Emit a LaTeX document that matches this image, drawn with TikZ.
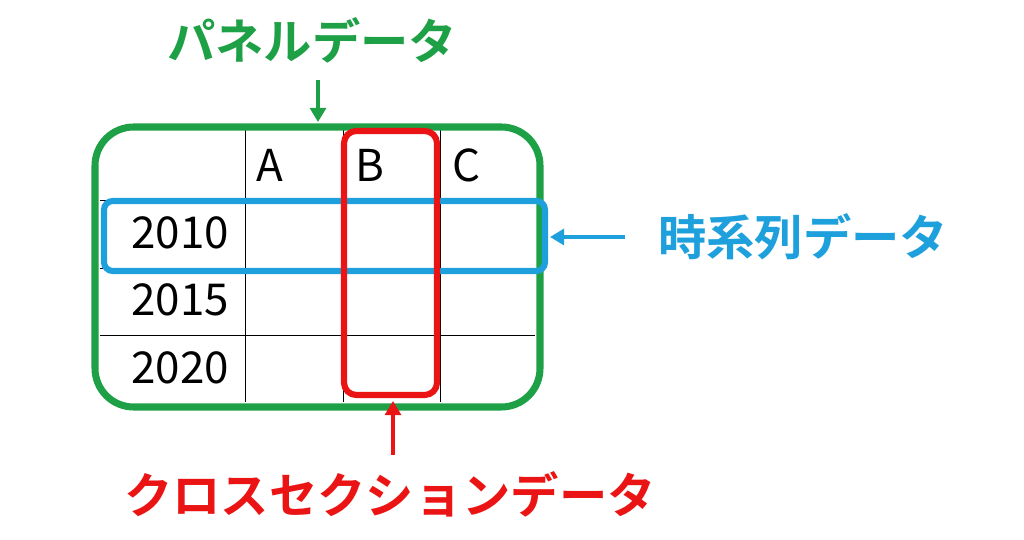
\documentclass[tikz,border=0pt]{standalone}
\usepackage{fontspec}
\newfontfamily\jpfont{Noto Sans CJK JP}
\newfontfamily\jpbold{Noto Sans CJK JP Bold}
\usetikzlibrary{arrows.meta}
\definecolor{panelgreen}{RGB}{30,160,70}
\definecolor{seriesblue}{RGB}{30,160,220}
\definecolor{crossred}{RGB}{235,20,20}
\tikzset{
  cell/.style={font=\jpfont\fontsize{25}{25}\selectfont},
  title/.style={font=\jpbold\fontsize{27.5}{27.5}\selectfont},
  pointer/.style={line width=2.2pt,-{Triangle[length=8pt,width=9pt]}}
}
\begin{document}
\begin{tikzpicture}[x=0.02cm,y=-0.02cm]
\useasboundingbox (0,0) rectangle (1024,540);
%grid
\draw[thin] (100,200) -- (535,200);
\draw[thin] (100,268) -- (535,268);
\draw[thin] (100,335) -- (535,335);
\draw[thin] (245,130) -- (245,402);
\draw[thin] (343,130) -- (343,402);
\draw[thin] (440,130) -- (440,402);
%cells
\node[cell] (ca) at (270,165) {A};
\node[cell] (cb) at (370,165) {B};
\node[cell] (cc) at (467,165) {C};
\node[cell,anchor=east] (y1) at (235,233) {2010};
\node[cell,anchor=east] (y2) at (235,300) {2015};
\node[cell,anchor=east] (y3) at (235,368) {2020};
%frames
\draw[panelgreen,line width=4pt,rounded corners=22pt] (95,127) rectangle (540,407);
\draw[seriesblue,line width=3.5pt,rounded corners=5pt] (104,201) rectangle (545,271);
\draw[crossred,line width=3.5pt,rounded corners=7pt] (344,131) rectangle (437,395);
%labels
\node[title,text=panelgreen] (panel) at (312,40) {パネルデータ};
\node[title,text=seriesblue] (series) at (803,237) {時系列データ};
\node[title,text=crossred] (cross) at (390,494) {クロスセクションデータ};
\coordinate (ptop) at (318,122);
\coordinate (sleft) at (550,237);
\coordinate (cbot) at (393,401);
\draw[pointer,panelgreen] (318,80) -- (ptop);
\draw[pointer,seriesblue] (625,237) -- (sleft);
\draw[pointer,crossred] (393,455) -- (cbot);
\end{tikzpicture}
\end{document}
